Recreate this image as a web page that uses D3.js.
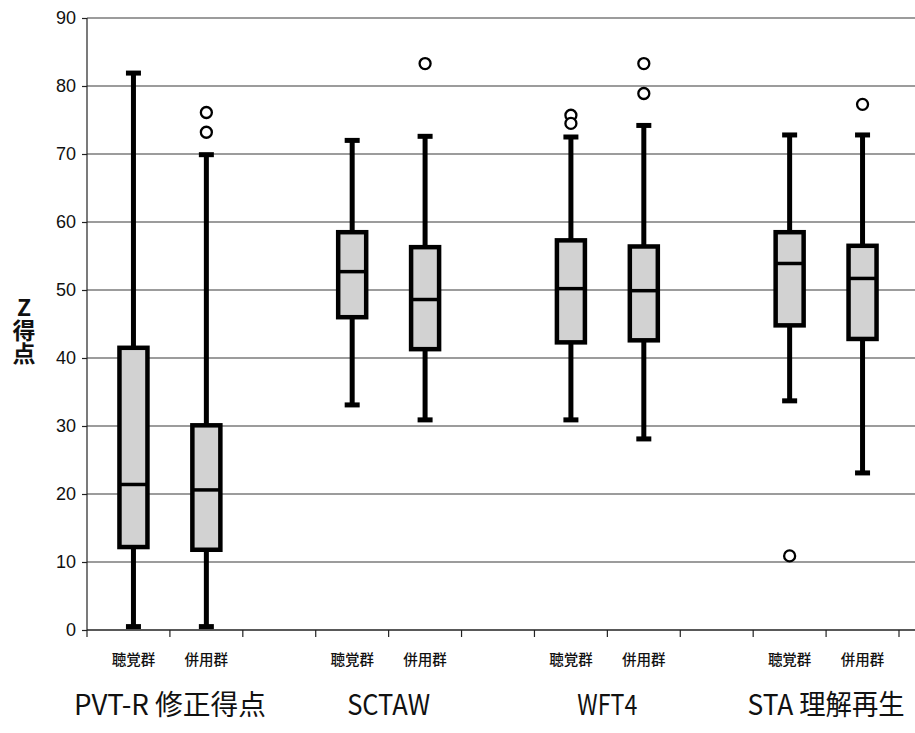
<!DOCTYPE html>
<html>
<head>
<meta charset="utf-8">
<script src="https://cdn.jsdelivr.net/npm/d3@7"></script>
<style>
  body { margin: 0; background: #fff; }
  svg { display: block; }
</style>
</head>
<body>
<div id="main"></div>
<script>
var ctx = {
    w: 915,
    h: 733,
    left: 87,
    right: 915,
    top: 18,
    bottom: 630,
};

// tests and groups
var groups = ["PVT-R 修正得点", "SCTAW", "WFT4", "STA 理解再生"];
var subgroups = ["聴覚群", "併用群"];
var yTicks = [0, 10, 20, 30, 40, 50, 60, 70, 80, 90];
var yTitle = "Z得点";

// box statistics, order: PVT聴覚, PVT併用, SCTAW聴覚, SCTAW併用, WFT4聴覚, WFT4併用, STA聴覚, STA併用
var whiskerLow = [0.5, 0.5, 33.1, 30.9, 30.9, 28.1, 33.7, 23.1];
var q1 = [12.2, 11.8, 46.0, 41.3, 42.3, 42.6, 44.8, 42.8];
var median = [21.4, 20.6, 52.7, 48.6, 50.2, 49.9, 53.9, 51.7];
var q3 = [41.5, 30.1, 58.5, 56.3, 57.3, 56.4, 58.5, 56.5];
var whiskerHigh = [81.9, 69.9, 72.0, 72.6, 72.5, 74.2, 72.8, 72.8];
var outliers = [[], [76.1, 73.2], [], [83.3], [75.7, 74.5], [83.3, 78.9], [10.9], [77.3]];

var createViz = function () {
    var svg = d3.select("#main").append("svg")
        .attr("width", ctx.w)
        .attr("height", ctx.h);

    // slots: two boxes per test, then an empty slot between tests
    var slots = [];
    groups.forEach(function (g, gi) {
        subgroups.forEach(function (s, si) {
            slots.push(gi + "-" + si);
        });
        if (gi < groups.length - 1) slots.push("gap" + gi);
    });

    var x = d3.scaleBand().domain(slots).range([97, 899]).padding(0);
    var y = d3.scaleLinear().domain([0, 90]).range([ctx.bottom, ctx.top]);

    var boxes = [];
    groups.forEach(function (g, gi) {
        subgroups.forEach(function (s, si) {
            var i = gi * 2 + si;
            boxes.push({
                key: gi + "-" + si,
                label: s,
                lo: whiskerLow[i],
                q1: q1[i],
                med: median[i],
                q3: q3[i],
                hi: whiskerHigh[i],
                out: outliers[i],
            });
        });
    });

    var numFont = "'Liberation Sans Narrow', 'Liberation Sans', Arial, sans-serif";
    var jpFont = "'Noto Sans CJK JP', sans-serif";

    // grid
    svg.append("g")
        .selectAll("line")
        .data(yTicks.slice(1))
        .enter()
        .append("line")
        .attr("x1", ctx.left)
        .attr("x2", ctx.right)
        .attr("y1", function (d) { return y(d); })
        .attr("y2", function (d) { return y(d); })
        .style("stroke", "#3a3a3a")
        .style("stroke-width", 1.2);

    // y axis
    var yAxis = d3.axisLeft(y).tickValues(yTicks).tickSize(5).tickPadding(6);
    var ga = svg.append("g").attr("transform", "translate(" + ctx.left + ",0)").call(yAxis);
    ga.select(".domain").attr("d", "M0," + ctx.top + "V" + (ctx.bottom + 7))
        .style("stroke", "#222").style("stroke-width", 1.2);
    ga.selectAll(".tick line").style("stroke", "#222").style("stroke-width", 1.2);
    ga.selectAll(".tick text")
        .style("font-family", numFont)
        .style("font-size", "18px")
        .style("fill", "#111");

    // x axis with ticks on slot boundaries
    var gx = svg.append("g");
    gx.append("line")
        .attr("x1", ctx.left).attr("x2", ctx.right)
        .attr("y1", ctx.bottom).attr("y2", ctx.bottom)
        .style("stroke", "#222").style("stroke-width", 1.4);
    gx.selectAll(".xt")
        .data(slots)
        .enter()
        .append("line")
        .attr("class", "xt")
        .attr("x1", function (d) { return x(d) + x.bandwidth(); })
        .attr("x2", function (d) { return x(d) + x.bandwidth(); })
        .attr("y1", ctx.bottom)
        .attr("y2", ctx.bottom + 7)
        .style("stroke", "#222").style("stroke-width", 1.2);

    // y title, written top to bottom
    svg.append("text")
        .attr("x", 24)
        .attr("y", 296)
        .style("writing-mode", "vertical-rl")
        .style("text-orientation", "upright")
        .style("font-family", jpFont)
        .style("font-size", "23px")
        .style("font-weight", 700)
        .style("fill", "#111")
        .text(yTitle);

    var cx = function (d) { return x(d.key) + x.bandwidth() / 2; };
    var boxW = 28;

    var gb = svg.append("g").attr("id", "boxes")
        .selectAll("g")
        .data(boxes)
        .enter()
        .append("g");

    // whiskers
    gb.append("line")
        .attr("x1", cx).attr("x2", cx)
        .attr("y1", function (d) { return y(d.lo); })
        .attr("y2", function (d) { return y(d.hi); })
        .style("stroke", "black")
        .style("stroke-width", 5);

    // caps
    gb.selectAll(".cap")
        .data(function (d) { return [{ c: cx(d), v: d.lo }, { c: cx(d), v: d.hi }]; })
        .enter()
        .append("rect")
        .attr("class", "cap")
        .attr("x", function (d) { return d.c - 7.5; })
        .attr("y", function (d) { return y(d.v) - 2.5; })
        .attr("width", 15)
        .attr("height", 5)
        .attr("fill", "black");

    // boxes
    gb.append("rect")
        .attr("x", function (d) { return cx(d) - boxW / 2; })
        .attr("y", function (d) { return y(d.q3); })
        .attr("width", boxW)
        .attr("height", function (d) { return y(d.q1) - y(d.q3); })
        .attr("fill", "#d2d2d2")
        .style("stroke", "black")
        .style("stroke-width", 4.5);

    // medians
    gb.append("line")
        .attr("x1", function (d) { return cx(d) - boxW / 2; })
        .attr("x2", function (d) { return cx(d) + boxW / 2; })
        .attr("y1", function (d) { return y(d.med); })
        .attr("y2", function (d) { return y(d.med); })
        .style("stroke", "black")
        .style("stroke-width", 3.5);

    // outliers
    gb.selectAll(".out")
        .data(function (d) { return d.out.map(function (v) { return { c: cx(d), v: v }; }); })
        .enter()
        .append("circle")
        .attr("class", "out")
        .attr("cx", function (d) { return d.c; })
        .attr("cy", function (d) { return y(d.v); })
        .attr("r", 5.5)
        .attr("fill", "white")
        .style("stroke", "black")
        .style("stroke-width", 2.3);

    // subgroup labels
    svg.append("g")
        .selectAll("text")
        .data(boxes)
        .enter()
        .append("text")
        .attr("x", cx)
        .attr("y", 665)
        .attr("text-anchor", "middle")
        .style("font-family", jpFont)
        .style("font-size", "14.5px")
        .style("font-weight", 500)
        .style("fill", "#111")
        .text(function (d) { return d.label; });

    // test names, centred under their pair of boxes
    var nameWidths = [192, 83, 60, 157];
    svg.append("g")
        .selectAll("text")
        .data(groups)
        .enter()
        .append("text")
        .attr("x", function (d, i) {
            return (x(i + "-0") + x(i + "-1") + x.bandwidth()) / 2;
        })
        .attr("y", 715)
        .attr("text-anchor", "middle")
        .attr("textLength", function (d, i) { return nameWidths[i]; })
        .attr("lengthAdjust", "spacingAndGlyphs")
        .style("font-family", jpFont)
        .style("font-size", "28px")
        .style("fill", "#111")
        .text(function (d) { return d; });
};

createViz();
</script>
</body>
</html>
